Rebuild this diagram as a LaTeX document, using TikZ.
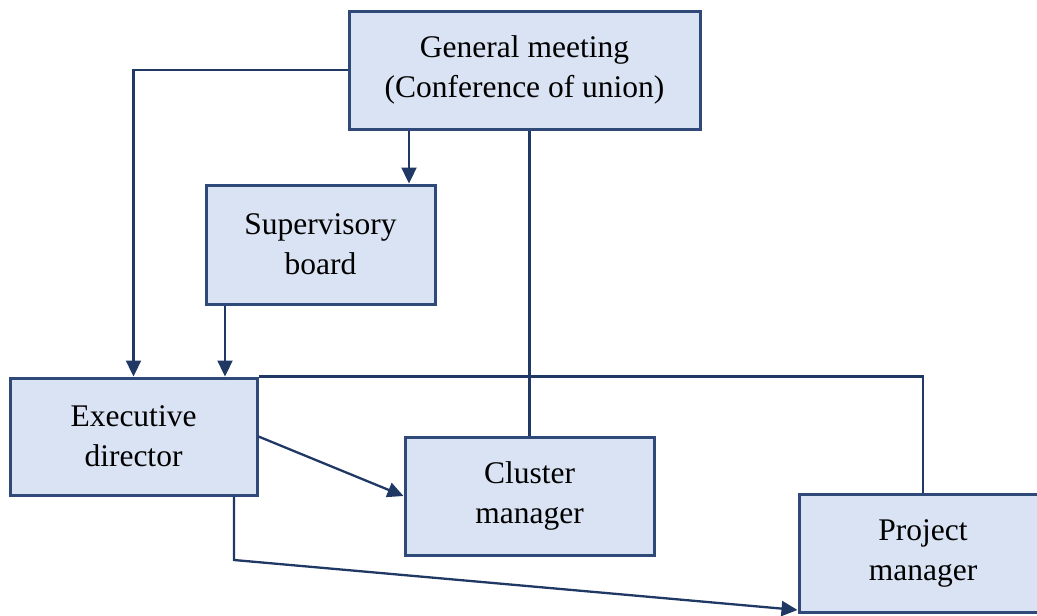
\documentclass[tikz,border=0pt]{standalone}
\usepackage{fontspec}
\setmainfont{Liberation Serif}
\usetikzlibrary{arrows.meta}
\definecolor{boxfill}{HTML}{DAE3F3}
\definecolor{boxdraw}{HTML}{2F4A78}
\definecolor{linecol}{HTML}{203864}
\begin{document}
\begin{tikzpicture}[x=1pt,y=-1pt,
  orgbox/.style={draw=boxdraw,fill=boxfill,line width=3pt,align=center,
    inner sep=0pt,font=\fontsize{31.5}{40}\selectfont},
  conn/.style={draw=linecol,line width=2.3pt},
  arr/.style={conn,-{Triangle[length=16pt,width=15pt]}}]
\useasboundingbox (0,0) rectangle (1037,616);
\clip (0,0) rectangle (1037,616);
\node[orgbox,minimum width=351pt,minimum height=118pt] (gm) at (524.5,70) {General meeting\\(Conference of union)};
\node[orgbox,minimum width=229pt,minimum height=119pt] (sb) at (320.5,244.5) {Supervisory\\board};
\node[orgbox,minimum width=247pt,minimum height=117pt] (ex) at (133.5,436.5) {Executive\\director};
\node[orgbox,minimum width=249pt,minimum height=118pt] (cl) at (529.5,496) {Cluster\\manager};
\node[orgbox,minimum width=248pt,minimum height=118pt] (pm) at (923,553) {Project\\manager};
\coordinate (bend) at (234,560);
\draw[arr] (gm.west) -| (ex.north);
\draw[arr] (gm.south -| 409,0) -- (sb.north -| 409,0);
\draw[arr] (sb.south -| 225,0) -- (ex.north -| 225,0);
\draw[conn] (gm.south -| cl.north) -- (cl.north);
\draw[conn] (ex.north east) -| (pm.north);
\draw[arr] (ex.east) -- (cl.west);
\draw[arr] (ex.south -| bend) -- (bend) -- (pm.south west |- 0,610);
\end{tikzpicture}
\end{document}
